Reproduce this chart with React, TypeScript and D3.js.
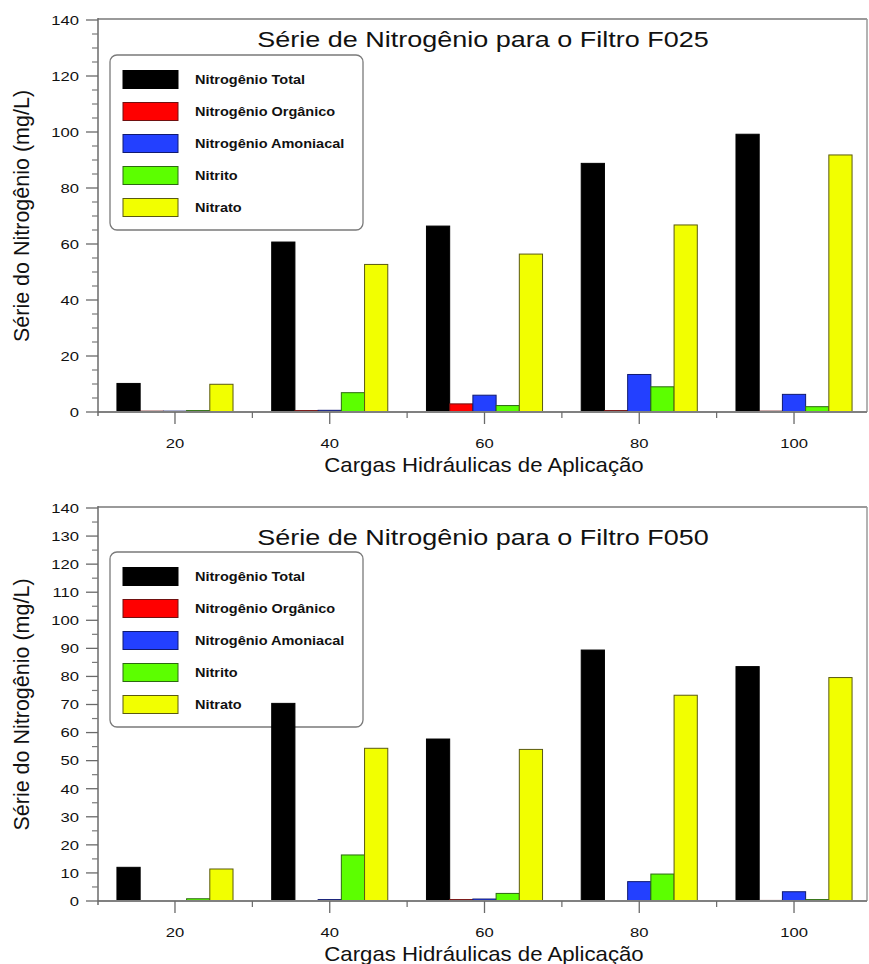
import React from 'react';
import * as d3 from 'd3';

const categories = [20, 40, 60, 80, 100];
const seriesNames = ['Nitrogênio Total', 'Nitrogênio Orgânico', 'Nitrogênio Amoniacal', 'Nitrito', 'Nitrato'];
const seriesColors = ['#000000', '#ff0000', '#2340ff', '#5cff00', '#f2ff00'];
const seriesStrokes = ['#000000', '#701010', '#101a70', '#2c6a10', '#5a5a10'];

// Filtro F025
const f025Total = [10.2, 60.7, 66.4, 88.8, 99.2];
const f025Organico = [0.3, 0.5, 2.9, 0.5, 0.3];
const f025Amoniacal = [0.3, 0.6, 6.0, 13.4, 6.3];
const f025Nitrito = [0.5, 6.9, 2.3, 9.0, 1.9];
const f025Nitrato = [9.9, 52.7, 56.4, 66.8, 91.8];

// Filtro F050
const f050Total = [12.0, 70.4, 57.7, 89.4, 83.5];
const f050Organico = [0, 0, 0.5, 0, 0.2];
const f050Amoniacal = [0, 0.5, 0.7, 6.9, 3.3];
const f050Nitrito = [0.8, 16.4, 2.7, 9.6, 0.5];
const f050Nitrato = [11.4, 54.4, 54.0, 73.3, 79.6];

const xMajorTicks = [20, 40, 60, 80, 100];
const xMinorTicks = [30, 50, 70, 90];
const topMajorTicks = [0, 20, 40, 60, 80, 100, 120, 140];
const bottomMajorTicks = [0, 10, 20, 30, 40, 50, 60, 70, 80, 90, 100, 110, 120, 130, 140];
const minorStep = 5;

const titles = ['Série de Nitrogênio para o Filtro F025', 'Série de Nitrogênio para o Filtro F050'];
const yTitle = 'Série do Nitrogênio (mg/L)';
const xTitle = 'Cargas Hidráulicas de Aplicação';

const FONT = '"Liberation Sans", Arial, Helvetica, sans-serif';
const PLOT_LEFT = 98;
const PLOT_RIGHT = 867;

type PanelProps = {
  series: number[][];
  majorTicks: number[];
  yTop: number;
  yBottom: number;
  title: string;
  titleY: number;
  legendY: number;
  tickLabelY: number;
  xTitleY: number;
};

function Panel(p: PanelProps) {
  const x = d3.scaleLinear().domain([10, 110]).range([97.6, 871.4]);
  const y = d3.scaleLinear().domain([0, 140]).range([p.yBottom, p.yTop]);
  const sub = d3.scaleBand<number>().domain(d3.range(seriesNames.length)).range([-7.5, 7.5]).padding(0);
  const minorTicks = d3.range(0, 141, minorStep).filter((v) => !p.majorTicks.includes(v));
  const yMid = (p.yTop + p.yBottom) / 2;
  return (
    <g>
      {/* frame top and right */}
      <line x1={PLOT_LEFT} x2={PLOT_RIGHT} y1={p.yTop - 1} y2={p.yTop - 1} stroke="#9a9a9a" strokeWidth={2} />
      <line x1={PLOT_RIGHT} x2={PLOT_RIGHT} y1={p.yTop - 1} y2={p.yBottom} stroke="#9a9a9a" strokeWidth={1.5} />
      {/* title */}
      <text
        transform={`translate(483,${p.titleY}) scale(1.21,1)`}
        textAnchor="middle"
        fontFamily={FONT}
        fontSize={22.3}
        fill="#111"
      >
        {p.title}
      </text>
      {/* legend (drawn beneath the bars) */}
      <rect x={110} y={p.legendY} width={253} height={175} rx={7} fill="#fff" stroke="#7a7a7a" strokeWidth={1.3} />
      {seriesNames.map((name, i) => {
        const cy = p.legendY + 24.5 + i * 32;
        return (
          <g key={name}>
            <rect x={123} y={cy - 9} width={55} height={18} fill={seriesColors[i]} stroke={seriesStrokes[i]} strokeWidth={1} />
            <text
              transform={`translate(195,${cy + 4.5}) scale(1.18,1)`}
              fontFamily={FONT}
              fontSize={12.3}
              fontWeight="bold"
              fill="#111"
            >
              {name}
            </text>
          </g>
        );
      })}
      {/* bars */}
      {p.series.map((vals, si) =>
        vals.map((v, ci) => {
          const x0 = x(categories[ci] + (sub(si) as number));
          const x1 = x(categories[ci] + (sub(si) as number) + sub.bandwidth());
          if (v <= 0) return null;
          return (
            <rect
              key={`${si}-${ci}`}
              x={x0}
              y={y(v)}
              width={x1 - x0}
              height={Math.max(0.01, y(0) - y(v))}
              fill={seriesColors[si]}
              stroke={seriesStrokes[si]}
              strokeWidth={1}
            />
          );
        })
      )}
      {/* axes */}
      <line x1={PLOT_LEFT} x2={PLOT_RIGHT} y1={y(0)} y2={y(0)} stroke="#808080" strokeWidth={2} />
      <line x1={PLOT_LEFT} x2={PLOT_LEFT} y1={p.yTop - 2} y2={y(0) + 4} stroke="#6a6a6a" strokeWidth={1.5} />
      {p.majorTicks.map((t) => (
        <g key={`ym${t}`}>
          <line x1={PLOT_LEFT - 12} x2={PLOT_LEFT} y1={y(t)} y2={y(t)} stroke="#6a6a6a" strokeWidth={1.3} />
          <text
            transform={`translate(79,${y(t) + 4.8}) scale(1.25,1)`}
            textAnchor="end"
            fontFamily={FONT}
            fontSize={13.3}
            fill="#111"
          >
            {t}
          </text>
        </g>
      ))}
      {minorTicks.map((t) => (
        <line key={`yn${t}`} x1={PLOT_LEFT - 6} x2={PLOT_LEFT} y1={y(t)} y2={y(t)} stroke="#7a7a7a" strokeWidth={1.2} />
      ))}
      {xMajorTicks.map((t) => (
        <g key={`xm${t}`}>
          <line x1={x(t)} x2={x(t)} y1={y(0)} y2={y(0) + 12} stroke="#6a6a6a" strokeWidth={1.3} />
          <text
            transform={`translate(${x(t)},${p.tickLabelY}) scale(1.25,1)`}
            textAnchor="middle"
            fontFamily={FONT}
            fontSize={13.3}
            fill="#111"
          >
            {t}
          </text>
        </g>
      ))}
      {xMinorTicks.map((t) => (
        <line key={`xn${t}`} x1={x(t)} x2={x(t)} y1={y(0)} y2={y(0) + 6} stroke="#6a6a6a" strokeWidth={1.2} />
      ))}
      {/* x title */}
      <text
        transform={`translate(484,${p.xTitleY}) scale(1.11,1)`}
        textAnchor="middle"
        fontFamily={FONT}
        fontSize={20}
        fill="#111"
      >
        {xTitle}
      </text>
      {/* y title */}
      <text
        transform={`translate(29,${yMid}) rotate(-90) `}
        textAnchor="middle"
        fontFamily={FONT}
        fontSize={21.5}
        fill="#111"
      >
        {yTitle}
      </text>
    </g>
  );
}

export default function App() {
  return (
    <svg
      width={869}
      height={964}
      style={{ position: 'absolute', left: 0, top: 0, background: '#fff' }}
    >
      <rect width={869} height={964} fill="#fff" />
      <Panel
        series={[f025Total, f025Organico, f025Amoniacal, f025Nitrito, f025Nitrato]}
        majorTicks={topMajorTicks}
        yTop={20}
        yBottom={412}
        title={titles[0]}
        titleY={47}
        legendY={55}
        tickLabelY={448}
        xTitleY={472}
      />
      <Panel
        series={[f050Total, f050Organico, f050Amoniacal, f050Nitrito, f050Nitrato]}
        majorTicks={bottomMajorTicks}
        yTop={508}
        yBottom={901}
        title={titles[1]}
        titleY={545}
        legendY={552}
        tickLabelY={937}
        xTitleY={961}
      />
    </svg>
  );
}
